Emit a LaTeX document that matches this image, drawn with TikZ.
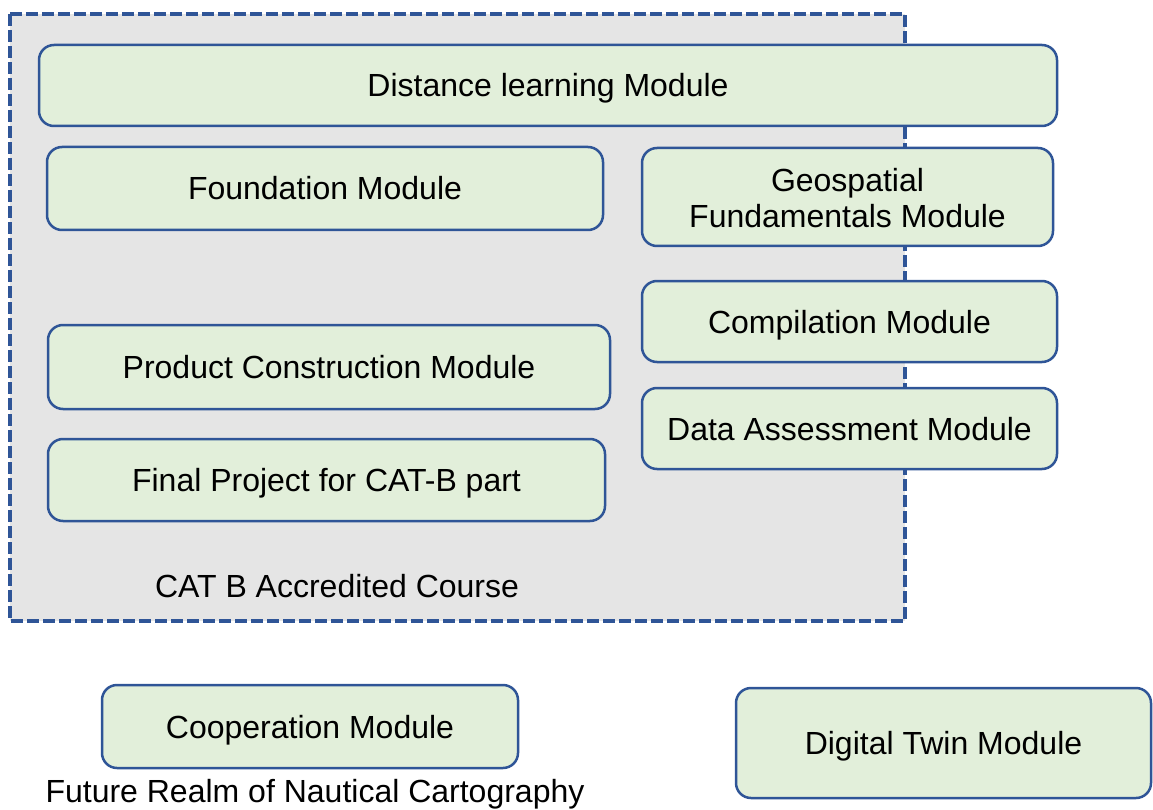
\documentclass[tikz,border=0pt]{standalone}
\usepackage{fontspec}
\setmainfont{Liberation Sans}
\definecolor{bordblue}{HTML}{2F5597}
\definecolor{boxgreen}{HTML}{E2EFDA}
\definecolor{areagray}{HTML}{E5E5E5}
\begin{document}
\begin{tikzpicture}[x=1pt,y=-1pt,
  modbox/.style={draw=bordblue, fill=boxgreen, line width=2.5pt, rounded corners=15pt, inner sep=0pt, align=center, text height=23pt, text depth=0pt, font=\fontsize{32}{36}\selectfont},
  plain/.style={inner sep=0pt, text height=23pt, text depth=0pt, font=\fontsize{32}{36}\selectfont}]
\useasboundingbox (0,0) rectangle (1153,810);
\draw[fill=areagray, draw=bordblue, line width=3.5pt, dash pattern=on 12pt off 4pt] (10,14) rectangle (905,621);
\node[modbox, minimum width=1018pt, minimum height=81pt] (dist) at (548,85.5) {Distance learning Module};
\node[modbox, minimum width=556pt, minimum height=83pt] (found) at (325,188.5) {Foundation Module};
\node[modbox, minimum width=411pt, minimum height=98pt, text height=62pt] (geo) at (847.5,197) {Geospatial\\Fundamentals Module};
\node[modbox, minimum width=415pt, minimum height=81pt] (comp) at (849.5,321.5) {Compilation Module};
\node[modbox, minimum width=562pt, minimum height=84pt] (prod) at (329,367) {Product Construction Module};
\node[modbox, minimum width=415pt, minimum height=81pt] (data) at (849.5,428.5) {Data Assessment Module};
\node[modbox, minimum width=557pt, minimum height=82pt] (final) at (326.5,480) {Final Project for CAT-B part};
\node[plain] (cat) at (337,586) {CAT B Accredited Course};
\node[modbox, minimum width=416pt, minimum height=83pt] (coop) at (310,726.5) {Cooperation Module};
\node[modbox, minimum width=415pt, minimum height=110pt] (twin) at (943.5,743) {Digital Twin Module};
\node[plain] (future) at (315,791) {Future Realm of Nautical Cartography};
\end{tikzpicture}
\end{document}
